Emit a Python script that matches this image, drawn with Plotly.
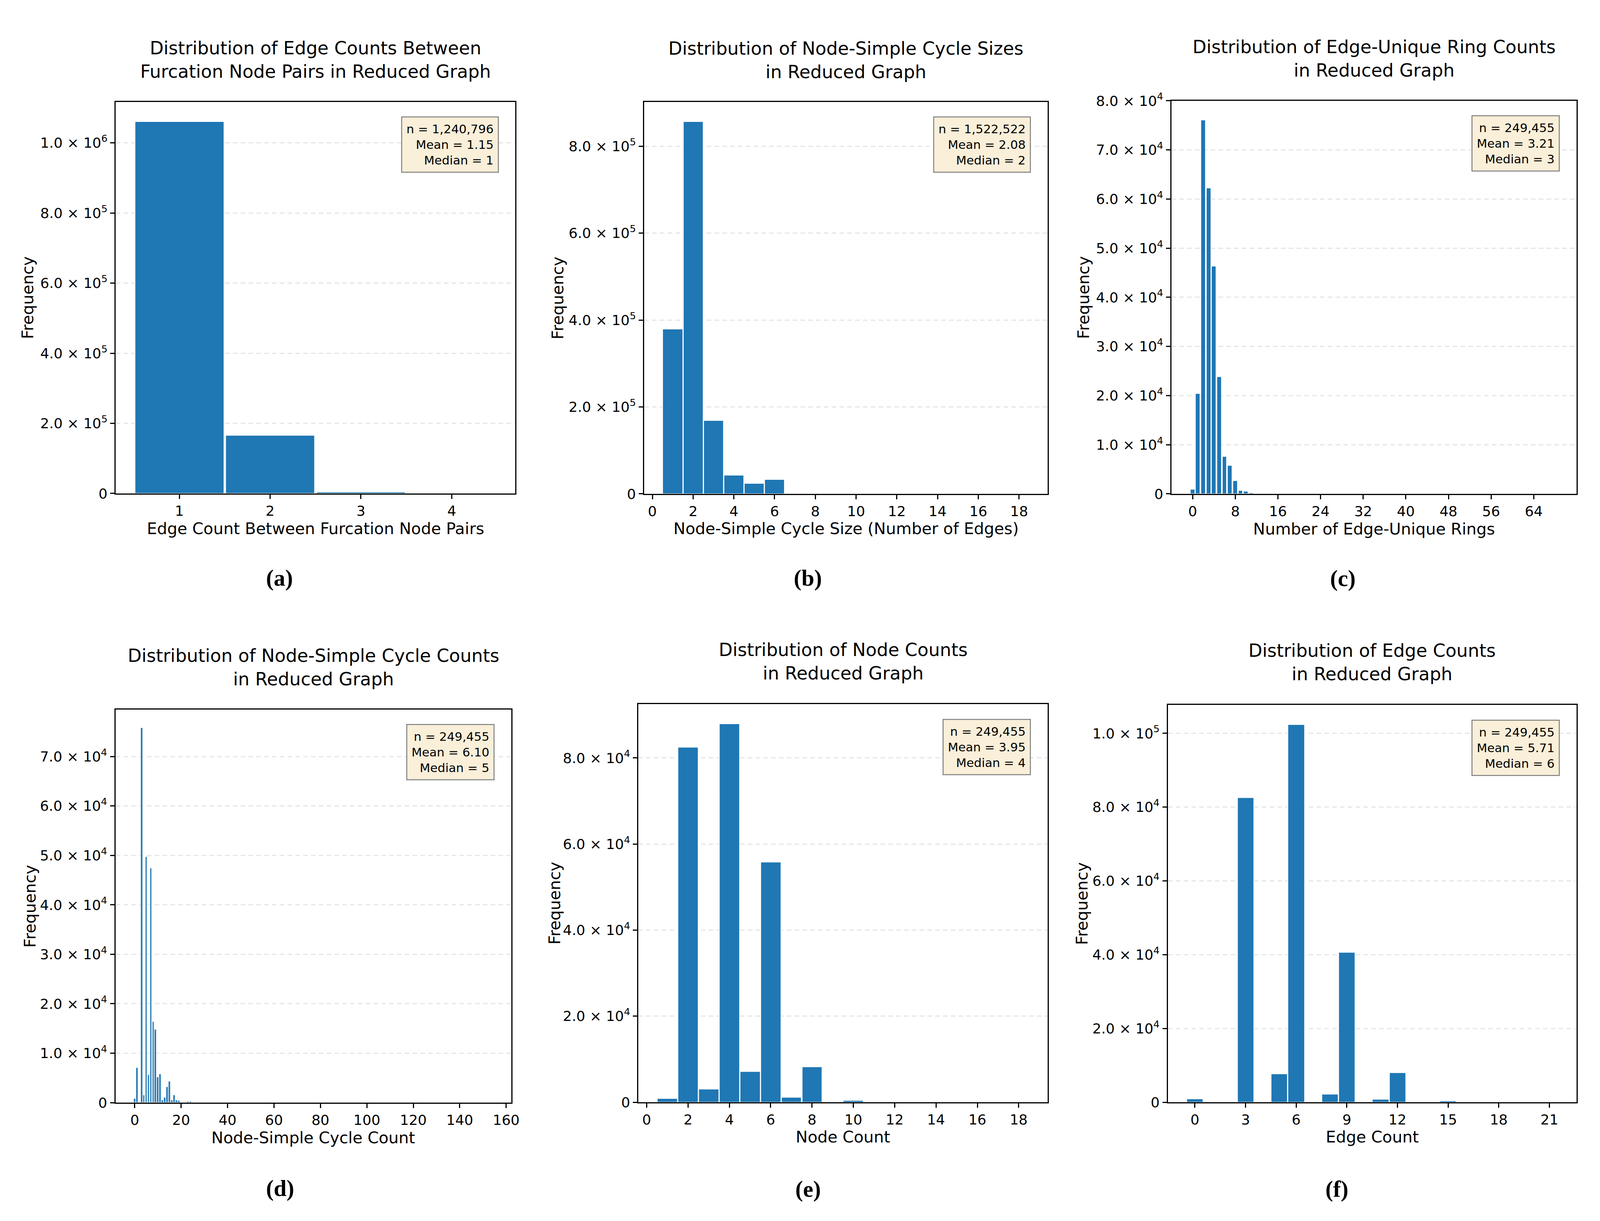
import plotly.graph_objects as go

# positions below are measured on the 4390x3125 reference; the page is drawn
# at the size the browser actually shows and everything is scaled to it
REF_W, REF_H = 4390, 3125
W, H = 4080, 3117
K = W / REF_W
BLUE = '#1f77b4'

# ---- data ----
# (a) edge counts between furcation node pairs
a_x = [1, 2, 3, 4]
a_y = [1061000, 166300, 4000, 150]

# (b) node-simple cycle sizes
b_x = [1, 2, 3, 4, 5, 6]
b_y = [379600, 856900, 169000, 43300, 24600, 33100]

# (c) edge-unique ring counts
c_x = [0, 1, 2, 3, 4, 5, 6, 7, 8, 9, 10, 11]
c_y = [880, 20340, 76060, 62160, 46260, 23790, 7550, 5750, 2650, 650, 450, 150]

# (d) node-simple cycle counts
d_x = [0, 1, 3, 4, 5, 6, 7, 8, 9, 10, 11, 12, 13, 14, 15, 16, 17, 18, 19, 23, 24]
d_y = [800, 7000, 75750, 1500, 49700, 5600, 47450, 16350, 14750, 5100, 5800,
       500, 1050, 3150, 4250, 500, 1500, 500, 400, 200, 200]

# (e) node counts
e_x = [1, 2, 3, 4, 5, 6, 7, 8, 10]
e_y = [870, 82550, 3050, 87960, 7150, 55850, 1130, 8200, 440]

# (f) edge counts
f_x = [0, 2, 3, 5, 6, 8, 9, 11, 12, 15]
f_y = [920, 200, 82590, 7740, 102440, 2240, 40630, 810, 8040, 400]

titles = ['Distribution of Edge Counts Between<br>Furcation Node Pairs in Reduced Graph',
          'Distribution of Node-Simple Cycle Sizes<br>in Reduced Graph',
          'Distribution of Edge-Unique Ring Counts<br>in Reduced Graph',
          'Distribution of Node-Simple Cycle Counts<br>in Reduced Graph',
          'Distribution of Node Counts<br>in Reduced Graph',
          'Distribution of Edge Counts<br>in Reduced Graph']
xlabels = ['Edge Count Between Furcation Node Pairs',
           'Node-Simple Cycle Size (Number of Edges)',
           'Number of Edge-Unique Rings',
           'Node-Simple Cycle Count',
           'Node Count',
           'Edge Count']
stats = ['n = 1,240,796<br>Mean = 1.15<br>Median = 1',
         'n = 1,522,522<br>Mean = 2.08<br>Median = 2',
         'n = 249,455<br>Mean = 3.21<br>Median = 3',
         'n = 249,455<br>Mean = 6.10<br>Median = 5',
         'n = 249,455<br>Mean = 3.95<br>Median = 4',
         'n = 249,455<br>Mean = 5.71<br>Median = 6']
panel_labels = ['(a)', '(b)', '(c)', '(d)', '(e)', '(f)']

a_xticks = [1, 2, 3, 4]
b_xticks = [0, 2, 4, 6, 8, 10, 12, 14, 16, 18]
c_xticks = [0, 8, 16, 24, 32, 40, 48, 56, 64]
d_xticks = [0, 20, 40, 60, 80, 100, 120, 140, 160]
e_xticks = [0, 2, 4, 6, 8, 10, 12, 14, 16, 18]
f_xticks = [0, 3, 6, 9, 12, 15, 18, 21]

a_yticks = [0, 2e5, 4e5, 6e5, 8e5, 1e6]
a_ytext = ['0', '2.0 × 10<sup>5</sup>', '4.0 × 10<sup>5</sup>', '6.0 × 10<sup>5</sup>',
           '8.0 × 10<sup>5</sup>', '1.0 × 10<sup>6</sup>']
b_yticks = [0, 2e5, 4e5, 6e5, 8e5]
b_ytext = ['0', '2.0 × 10<sup>5</sup>', '4.0 × 10<sup>5</sup>', '6.0 × 10<sup>5</sup>',
           '8.0 × 10<sup>5</sup>']
c_yticks = [0, 1e4, 2e4, 3e4, 4e4, 5e4, 6e4, 7e4, 8e4]
c_ytext = ['0'] + ['%d.0 × 10<sup>4</sup>' % k for k in range(1, 9)]
d_yticks = [0, 1e4, 2e4, 3e4, 4e4, 5e4, 6e4, 7e4]
d_ytext = ['0'] + ['%d.0 × 10<sup>4</sup>' % k for k in range(1, 8)]
e_yticks = [0, 2e4, 4e4, 6e4, 8e4]
e_ytext = ['0', '2.0 × 10<sup>4</sup>', '4.0 × 10<sup>4</sup>', '6.0 × 10<sup>4</sup>',
           '8.0 × 10<sup>4</sup>']
f_yticks = [0, 2e4, 4e4, 6e4, 8e4, 1e5]
f_ytext = ['0', '2.0 × 10<sup>4</sup>', '4.0 × 10<sup>4</sup>', '6.0 × 10<sup>4</sup>',
           '8.0 × 10<sup>4</sup>', '1.0 × 10<sup>5</sup>']

# ---- panel boxes on the reference (px): left, right, top, bottom ----
boxes = [(312, 1418, 231, 1251), (1775, 2892, 231, 1252), (3235, 4356, 228, 1252),
         (311, 1407, 1814, 2838), (1759, 2892, 1800, 2837), (3225, 4356, 1802, 2837)]
xranges = [[0.3, 4.7], [-0.4, 19.4], [-3.97, 72], [-8.3, 162.2], [-0.4, 19.4], [-1.6, 22.6]]
yranges = [[0, 1.1168e6], [0, 9.02e5], [0, 8e4], [0, 7.95e4], [0, 9.25e4], [0, 1.077e5]]
bar_w = [0.98, 0.98, 0.8, 0.8, 0.98, 0.98]
title_y = [121, 122, 118, 1704, 1689, 1691]
xlab_y = [1343, 1343, 1344, 2930, 2928, 2928]
ylab_x = [68, 1536, 2992, 75, 1527, 2987]
plab_xy = [(765, 1471), (2228, 1471), (3709, 1472), (767, 3061), (2228, 3063), (3693, 3063)]

xs = [a_x, b_x, c_x, d_x, e_x, f_x]
ys = [a_y, b_y, c_y, d_y, e_y, f_y]
xticks = [a_xticks, b_xticks, c_xticks, d_xticks, e_xticks, f_xticks]
yticks = [a_yticks, b_yticks, c_yticks, d_yticks, e_yticks, f_yticks]
ytexts = [a_ytext, b_ytext, c_ytext, d_ytext, e_ytext, f_ytext]


def fx(px):
    return px / REF_W


def fy(py):
    return 1 - py / REF_H


fig = go.Figure()
layout = dict(width=W, height=H, autosize=False, margin=dict(l=0, r=0, t=0, b=0),
              paper_bgcolor='white', plot_bgcolor='white', showlegend=False,
              font=dict(family='DejaVu Sans', color='black', size=round(39 * K)),
              bargap=0)
annotations = []

for i in range(6):
    l, r, t, b = boxes[i]
    sfx = '' if i == 0 else str(i + 1)
    fig.add_trace(go.Bar(x=xs[i], y=ys[i], width=bar_w[i], marker_color=BLUE,
                         marker_line=dict(color='white', width=2 if bar_w[i] > 0.9 else 1),
                         xaxis='x' + sfx, yaxis='y' + sfx))
    axis_common = dict(showline=True, linecolor='black', linewidth=3, mirror=True,
                       ticks='outside', ticklen=11, tickwidth=3, tickcolor='black',
                       zeroline=False, tickfont=dict(size=round(39 * K)))
    layout['xaxis' + sfx] = dict(domain=[fx(l), fx(r)], anchor='y' + sfx,
                                 range=xranges[i], tickvals=xticks[i], showgrid=False,
                                 **axis_common)
    layout['yaxis' + sfx] = dict(domain=[fy(b), fy(t)], anchor='x' + sfx,
                                 range=yranges[i], tickvals=yticks[i], ticktext=ytexts[i],
                                 showgrid=True, gridcolor='#e6e6e6', gridwidth=2.5,
                                 griddash='12px,8px', **axis_common)
    cx = fx((l + r) / 2)
    annotations.append(dict(text=titles[i], x=cx, y=fy(title_y[i]), xref='paper',
                            yref='paper', showarrow=False, xanchor='center',
                            yanchor='middle', font=dict(size=round(49 * K))))
    annotations.append(dict(text=xlabels[i], x=cx, y=fy(xlab_y[i]), xref='paper',
                            yref='paper', showarrow=False, xanchor='center',
                            yanchor='middle', font=dict(size=round(44 * K))))
    annotations.append(dict(text='Frequency', x=fx(ylab_x[i]), y=fy((t + b) / 2),
                            xref='paper', yref='paper', showarrow=False, textangle=-90,
                            xanchor='center', yanchor='middle',
                            font=dict(size=round(44 * K))))
    annotations.append(dict(text=stats[i], x=1 - 46 / (r - l), y=1 - 38 / (b - t),
                            xref='x' + sfx + ' domain', yref='y' + sfx + ' domain',
                            showarrow=False, xanchor='right', yanchor='top', align='right',
                            bgcolor='rgb(250,239,217)', bordercolor='rgb(128,128,128)',
                            borderwidth=2.5, borderpad=11,
                            font=dict(size=round(33 * K))))
    px, py = plab_xy[i]
    annotations.append(dict(text='<b>' + panel_labels[i] + '</b>', x=fx(px), y=fy(py),
                            xref='paper', yref='paper', showarrow=False, xanchor='center',
                            yanchor='middle',
                            font=dict(family='Liberation Serif', size=round(64 * K))))

layout['annotations'] = annotations
fig.update_layout(**layout)

fig.write_html('out.html')
